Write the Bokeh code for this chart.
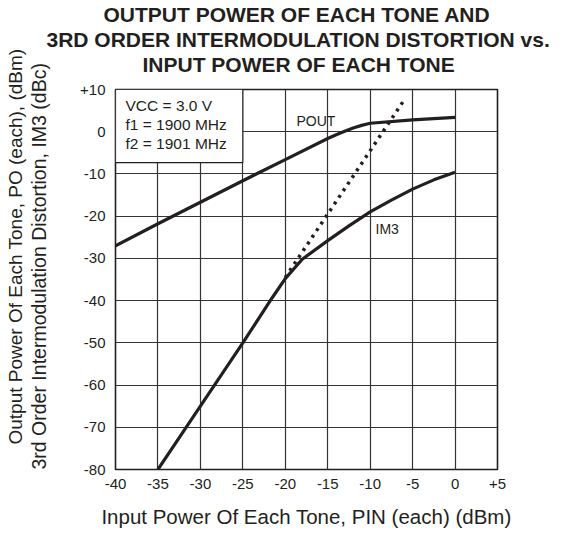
from bokeh.plotting import figure
from bokeh.models import Range1d, FixedTicker, Label, Title
from bokeh.embed import file_html
from bokeh.resources import INLINE

# ---- data ----
x_ticks = [-40, -35, -30, -25, -20, -15, -10, -5, 0, 5]
x_tick_labels = ["-40", "-35", "-30", "-25", "-20", "-15", "-10", "-5", "0", "+5"]
y_ticks = [-80, -70, -60, -50, -40, -30, -20, -10, 0, 10]
y_tick_labels = ["-80", "-70", "-60", "-50", "-40", "-30", "-20", "-10", "0", "+10"]

pin_pout = [-40, -35, -30, -25, -20, -15, -14, -13, -12, -11, -10, -5, 0]
pout = [-27, -21.8, -16.7, -11.6, -6.6, -1.6, -0.7, 0.1, 0.9, 1.5, 2.0, 2.8, 3.4]

pin_im3 = [-35, -30, -25, -21.5, -20, -18, -15, -12.5, -10, -7.5, -5, -2.5, 0]
im3 = [-80, -65, -50, -39.2, -34.8, -30.2, -25.8, -22.3, -19.0, -16.2, -13.6, -11.4, -9.6]

pin_ext = [-20, -6]
im3_ext = [-34.5, 7.5]

box_x = [-40, -25]
box_y = [-7.3, 10]

title_lines = ["OUTPUT POWER OF EACH TONE AND",
               "3RD ORDER INTERMODULATION DISTORTION vs.",
               "INPUT POWER OF EACH TONE"]
cond_lines = ["VCC = 3.0 V", "f1 = 1900 MHz", "f2 = 1901 MHz"]
ylab_lines = ["Output Power Of Each Tone, PO (each), (dBm)",
              "3rd Order Intermodulation Distortion, IM3 (dBc)"]
xlab = "Input Power Of Each Tone, PIN (each) (dBm)"

INK = "#231f20"
FONT = "Liberation Sans"

W, H = 570, 534
# frame geometry in page pixels
FL, FR, FT, FB = 115, 497, 89, 469
def fx(px):
    return -40 + (px - FL) * 45.0 / (FR - FL)
def fy(py):
    return 10 - (py - FT) * 90.0 / (FB - FT)

p = figure(width=W, height=H, x_range=Range1d(-40, 5), y_range=Range1d(-80, 10),
           output_backend="svg", toolbar_location=None,
           min_border_left=FL, min_border_right=W - FR,
           min_border_top=FT, min_border_bottom=H - FB)
p.title.visible = False
p.background_fill_color = "white"
p.border_fill_color = "white"
p.outline_line_color = INK
p.outline_line_width = 1.6

p.xaxis.ticker = FixedTicker(ticks=x_ticks)
p.yaxis.ticker = FixedTicker(ticks=y_ticks)
p.xaxis.major_label_overrides = dict(zip(x_ticks, x_tick_labels))
p.yaxis.major_label_overrides = dict(zip(y_ticks, y_tick_labels))
for ax in (p.xaxis, p.yaxis):
    ax.axis_line_color = None
    ax.major_tick_line_color = None
    ax.minor_tick_line_color = None
    ax.major_tick_out = 0
    ax.major_tick_in = 0
    ax.major_label_text_font = FONT
    ax.major_label_text_font_size = "15px"
    ax.major_label_text_color = INK
p.xaxis.major_label_standoff = 9
p.yaxis.major_label_standoff = 10

p.xaxis.axis_label = xlab
p.xaxis.axis_label_text_font = FONT
p.xaxis.axis_label_text_font_size = "20.5px"
p.xaxis.axis_label_text_font_style = "normal"
p.xaxis.axis_label_text_color = INK
p.xaxis.axis_label_standoff = 13

# blank spacer label between the y tick labels and the two-line y title
p.yaxis.axis_label = " "
p.yaxis.axis_label_text_font_size = "1px"
p.yaxis.axis_label_standoff = 23

p.xgrid.ticker = FixedTicker(ticks=x_ticks)
p.ygrid.ticker = FixedTicker(ticks=y_ticks)
p.grid.grid_line_color = "#333333"
p.grid.grid_line_width = 1.2
p.grid.grid_line_alpha = 1.0

# spacer between frame and the heading (first added = nearest the frame)
p.add_layout(Title(text=" ", text_font_size="1px", standoff=11), "above")
for t, off in zip(reversed(title_lines), [27, -69, -12]):
    p.add_layout(Title(text=t, align="left", offset=off, text_font=FONT,
                       text_font_size="21px", text_font_style="bold",
                       text_color=INK, standoff=0), "above")

# y-axis title lines as left-side titles (first added = nearest the axis)
for t, size, off in zip(reversed(ylab_lines), ["19.5px", "19px"], [0, 25]):
    p.add_layout(Title(text=t, align="left", offset=off, text_font=FONT,
                       text_font_size=size, text_font_style="normal",
                       text_color=INK, standoff=0), "left")

# condition box
p.quad(left=box_x[0], right=box_x[1], bottom=box_y[0], top=box_y[1],
       fill_color="white", line_color=INK, line_width=1.2)

# curves
p.line(pin_ext, im3_ext, line_color=INK, line_width=3.5, line_dash="3 5")
p.line(pin_pout, pout, line_color=INK, line_width=3.2)
p.line(pin_im3, im3, line_color=INK, line_width=3.2)

def lab(text, px, py, size):
    p.add_layout(Label(x=fx(px), y=fy(py), text=text, text_font=FONT,
                       text_font_size=size, text_color=INK, text_align="left",
                       text_baseline="middle"))

for t, yy in zip(cond_lines, [105, 124, 143]):
    lab(t, 125, yy, "15.5px")

lab("POUT", 296, 120, "14px")
lab("IM3", 375, 228, "14px")

open("out.html", "w").write(file_html(p, INLINE))
